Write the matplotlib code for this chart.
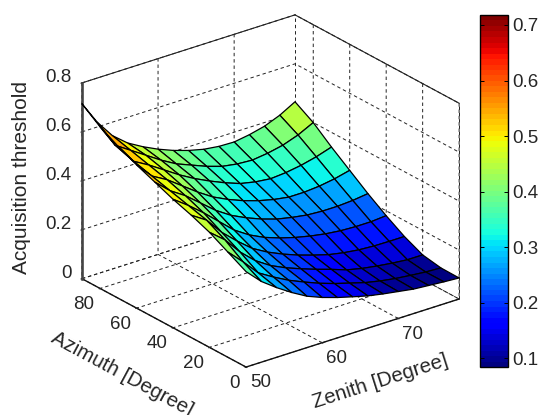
import numpy as np
import matplotlib
matplotlib.use('Agg')
import matplotlib.pyplot as plt
from matplotlib import cm, colors
from mpl_toolkits.mplot3d import Axes3D

plt.rcParams['font.family'] = ['Liberation Sans', 'DejaVu Sans']

zenith = [50, 52, 54, 56, 58, 60, 62, 64, 66, 68, 70, 72, 74, 76, 78]
azimuth = [0, 10, 20, 30, 40, 50, 60, 70, 80, 90]
threshold_az0 = [.39, .33, .285, .245, .21, .185, .165, .148, .132, .12, .11, .10, .095, .09, .086]
threshold_az10 = [.43, .37, .305, .268, .235, .208, .183, .162, .144, .126, .113, .103, .096, .09, .087]
threshold_az20 = [.47, .42, .35, .295, .255, .226, .202, .18, .16, .138, .124, .114, .106, .10, .10]
threshold_az30 = [.50, .46, .39, .335, .285, .25, .222, .198, .178, .16, .148, .14, .136, .135, .135]
threshold_az40 = [.525, .48, .43, .375, .32, .28, .25, .228, .21, .196, .185, .178, .175, .175, .18]
threshold_az50 = [.555, .50, .46, .41, .36, .32, .29, .265, .245, .232, .222, .218, .218, .222, .23]
threshold_az60 = [.585, .52, .485, .44, .395, .355, .325, .30, .28, .265, .255, .255, .26, .27, .285]
threshold_az70 = [.62, .54, .505, .465, .425, .39, .36, .333, .31, .297, .29, .295, .305, .32, .34]
threshold_az80 = [.66, .565, .525, .485, .445, .41, .385, .36, .34, .33, .326, .334, .347, .369, .40]
threshold_az90 = [.715, .62, .545, .495, .46, .43, .405, .385, .37, .362, .36, .37, .385, .41, .445]

zen_ticks = [50, 60, 70]
az_ticks = [0, 20, 40, 60, 80]
z_ticks = [0, .2, .4, .6, .8]
z_ticklabels = ['0', '0.2', '0.4', '0.6', '0.8']
cbar_ticks = [.1, .2, .3, .4, .5, .6, .7]
cbar_ticklabels = ['0.1', '0.2', '0.3', '0.4', '0.5', '0.6', '0.7']
color_limits = (.084, .718)

W, H = 541, 415
fig = plt.figure(figsize=(W / 100, H / 100), dpi=100)
S = 424.2
ax = fig.add_axes([52.7 / W, 6.2 / H, S / W, S / H], projection='3d', proj_type='ortho')
ax.set_box_aspect((1, 1, .8))
ax.view_init(elev=24.5, azim=-127.6)
ax.patch.set_alpha(0)

Z = np.array([threshold_az0, threshold_az10, threshold_az20, threshold_az30,
              threshold_az40, threshold_az50, threshold_az60, threshold_az70,
              threshold_az80, threshold_az90])
XX, YY = np.meshgrid(zenith, azimuth)
norm = colors.Normalize(*color_limits)
jet = matplotlib.colormaps['jet'].resampled(64)
# descending order: each cell takes the colour of its high-zenith, high-azimuth corner
ax.plot_surface(XX[::-1, ::-1], YY[::-1, ::-1], Z[::-1, ::-1], rstride=1, cstride=1,
                facecolors=jet(norm(Z[::-1, ::-1])), edgecolor='black', linewidth=0.9,
                shade=False, antialiased=True)

ax.set_xlim(zenith[0], zenith[-1])
ax.set_ylim(azimuth[0], azimuth[-1])
ax.set_zlim(z_ticks[0], z_ticks[-1])
ax.set_xticks(zen_ticks)
ax.set_yticks(az_ticks)
ax.set_zticks(z_ticks)
ax.set_zticklabels(z_ticklabels)
ax.tick_params(axis='x', labelsize=13.5, colors='#262626', pad=-4)
ax.tick_params(axis='y', labelsize=13.5, colors='#262626', pad=-3.5)
ax.tick_params(axis='z', labelsize=13.5, colors='#262626', pad=-3.5)
for t in ax.get_xticklabels():
    t.set_ha('left')
for t in ax.get_yticklabels():
    t.set_ha('right')
for t in ax.get_zticklabels():
    t.set_ha('right')
    t.set_va('baseline')

for axis in (ax.xaxis, ax.yaxis, ax.zaxis):
    axis.set_pane_color((1, 1, 1, 0))
    axis.pane.set_edgecolor((1, 1, 1, 0))
    axis._axinfo['grid'].update(color='#222222', linestyle=(0, (3.5, 3)), linewidth=0.7)
    axis._axinfo['axisline']['color'] = '#111111'
    axis.line.set_linewidth(1.0)
    axis.line.set_color('#111111')
    axis._axinfo['tick']['inward_factor'] = 0.05
    axis._axinfo['tick']['outward_factor'] = 0.05
ax.zaxis.set_ticks_position('upper')
ax.zaxis.set_label_position('upper')

ax.set_xlabel('Zenith [Degree]', fontsize=14.8, color='#262626', labelpad=6)
ax.set_ylabel('Azimuth [Degree]', fontsize=14.8, color='#262626', labelpad=10)
ax.set_zlabel('Acquisition threshold', fontsize=15, color='#262626', labelpad=4.5)

x0, x1 = ax.get_xlim()
y0, y1 = ax.get_ylim()
z0, z1 = ax.get_zlim()
top = dict(color='#222222', lw=0.8, zorder=0)
dash = dict(color='#222222', lw=0.7, ls=(0, (3.5, 3)), zorder=0)
ax.plot([x0, x1], [y1, y1], [z1, z1], **top)
ax.plot([x1, x1], [y1, y0], [z1, z1], **top)
ax.plot([x1, x1], [y1, y1], [z0, z1], **dash)
ax.plot([x1, x1], [y0, y0], [z0, z1], **dash)
ax.plot([x0, x1], [y1, y1], [z0, z0], **dash)
ax.plot([x1, x1], [y0, y1], [z0, z0], **dash)
ax.plot([x0, x0], [y1, y1], [z0, z1], color='#444444', lw=1.8, zorder=0)

cax = fig.add_axes([480 / W, 1 - 367 / H, 28 / W, 352 / H])
cb = fig.colorbar(cm.ScalarMappable(norm=norm, cmap=jet), cax=cax)
cb.set_ticks(cbar_ticks)
cb.set_ticklabels(cbar_ticklabels)
cax.tick_params(axis='y', direction='in', left=True, right=True, length=3, width=0.7,
                labelsize=13.5, labelcolor='#262626', pad=3)
cb.outline.set_edgecolor('black')
cb.outline.set_linewidth(1.0)

fig.savefig('out.png', dpi=100)
